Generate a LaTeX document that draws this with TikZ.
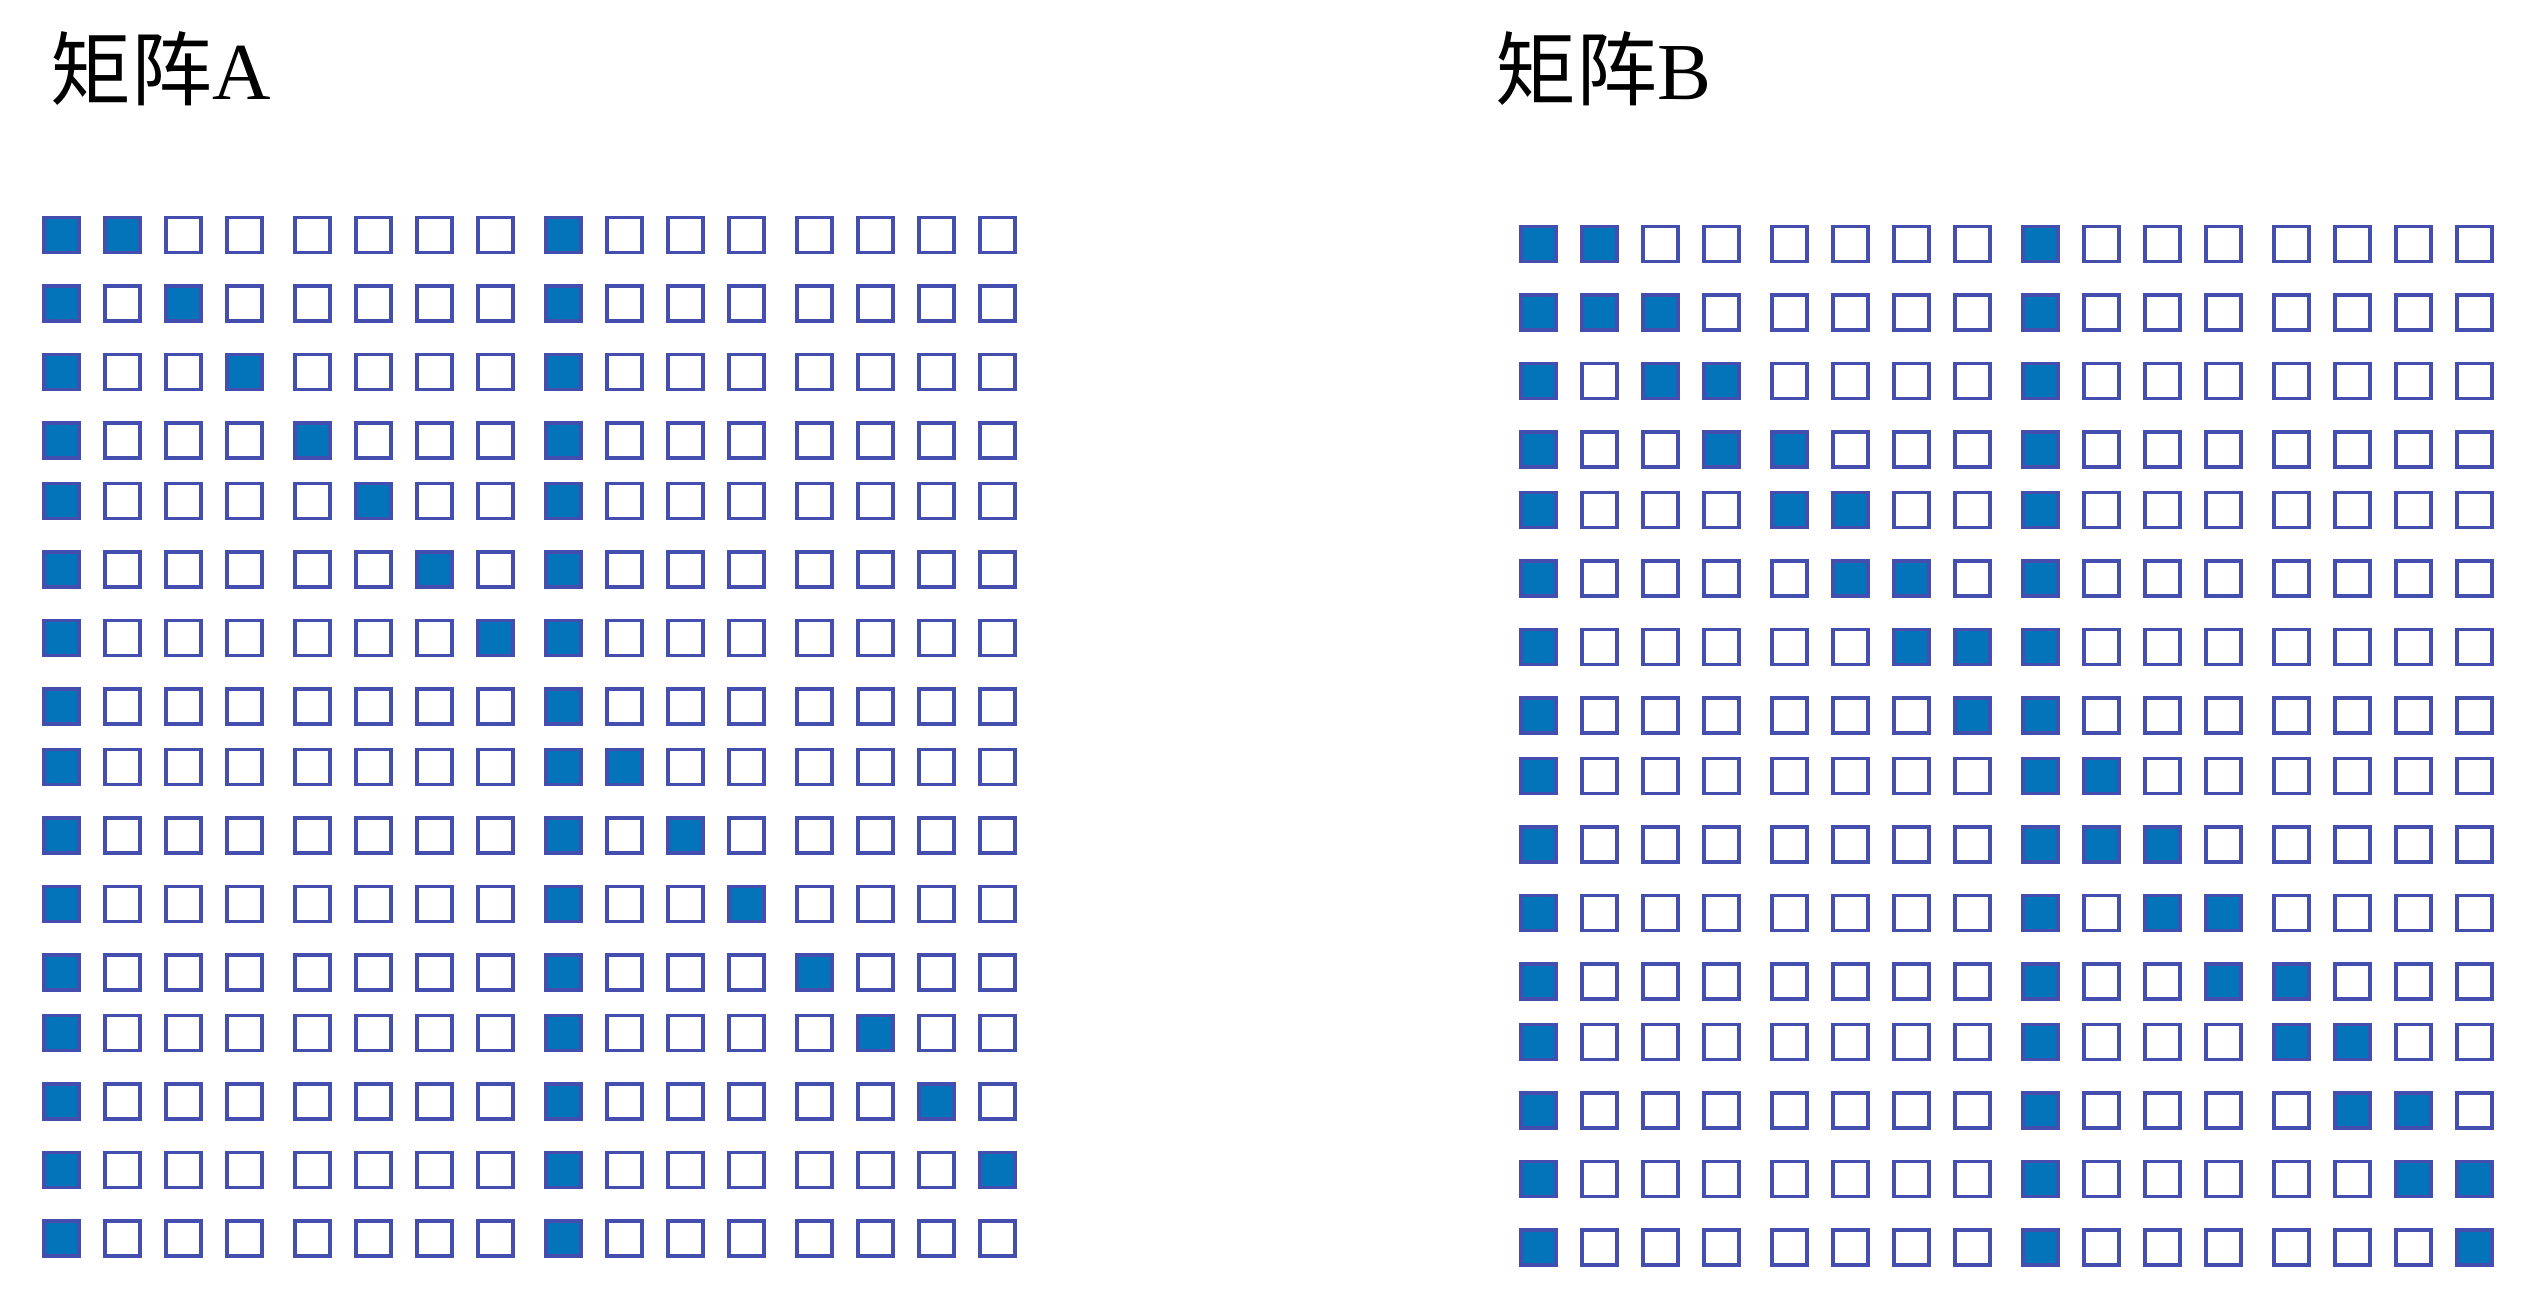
\documentclass[tikz,border=0pt]{standalone}
\usepackage{fontspec}
\setmainfont{Liberation Serif}
\newfontfamily\cjk{Noto Sans CJK SC}
\usepackage{tikz}
\definecolor{cellline}{RGB}{68,78,174}
\definecolor{cellblue}{RGB}{3,116,186}
\tikzset{cell/.style={draw=cellline, fill=#1, line width=0.035cm, inner sep=0pt, minimum size=0.35cm}}
\tikzset{matlabel/.style={inner sep=0pt, anchor=base west, font=\fontsize{23pt}{27pt}\selectfont}}

\begin{document}
\begin{tikzpicture}[x=0.01cm,y=-0.01cm]
        \useasboundingbox (0,0) rectangle (2541,1315);

        \node[matlabel] (labelA) at (50,99) {{\cjk 矩阵}A};
        \node[matlabel] (labelB) at (1495,99) {{\cjk 矩阵}B};

        \foreach \r in {0,...,15}
        \foreach \c in {0,...,15} {
            \pgfmathsetmacro{\cx}{61.5+61*\c+7*floor(\c/4)}
            \pgfmathsetmacro{\cy}{235+68.5*\r-8*floor(\r/4)}
            \pgfmathtruncatemacro{\onA}{(\c==0)||(\c==8)||(\c==\r+1)}
            \pgfmathtruncatemacro{\onB}{(\c==0)||(\c==8)||(\c==\r)||(\c==\r+1)}
            \ifnum\onA=1 \def\fillA{cellblue}\else\def\fillA{white}\fi
            \ifnum\onB=1 \def\fillB{cellblue}\else\def\fillB{white}\fi
            \node[cell=\fillA] (a-\r-\c) at (\cx,\cy) {};
            \node[cell=\fillB] (b-\r-\c) at ({\cx+1477},{\cy+9}) {};
        }
    \end{tikzpicture}
\end{document}
